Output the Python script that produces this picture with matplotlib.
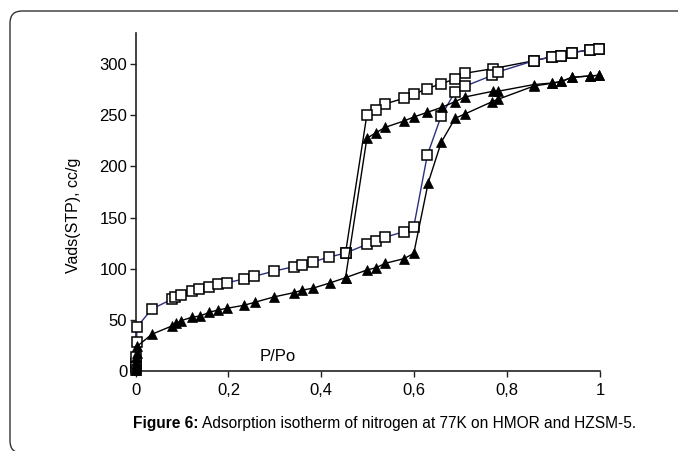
import matplotlib
matplotlib.use("Agg")
import matplotlib.pyplot as plt
from matplotlib.patches import FancyBboxPatch

plt.rcParams['font.family'] = ['Liberation Sans', 'DejaVu Sans']

# HMOR (squares) adsorption branch
hmor_ads_x = [0, 0.0005, 0.001, 0.0015, 0.002, 0.003, 0.035, 0.078, 0.085, 0.098, 0.121, 0.137,
              0.158, 0.177, 0.197, 0.233, 0.256, 0.297, 0.341, 0.358, 0.383, 0.417, 0.452, 0.498,
              0.518, 0.537, 0.578, 0.599, 0.628, 0.658, 0.688, 0.709, 0.768, 0.780, 0.858, 0.897,
              0.917, 0.939, 0.978, 0.998]
hmor_ads_y = [1, 4, 8, 14, 28, 43, 60.6, 70.1, 72.6, 74.6, 77.9, 79.9, 82.1, 85.3, 86.3, 89.9,
              92.6, 97.5, 102, 103.9, 106.8, 111.4, 115.3, 123.8, 126.8, 130.7, 136.2, 141.1,
              210.8, 249.3, 273, 278.3, 289, 292.3, 303.3, 307.2, 308.2, 311.2, 313.8, 314.5]
# HMOR desorption branch
hmor_des_x = [0.998, 0.978, 0.939, 0.917, 0.897, 0.858, 0.769, 0.709, 0.688, 0.658, 0.628, 0.599,
              0.578, 0.537, 0.518, 0.498, 0.452]
hmor_des_y = [314.5, 313.8, 311.2, 308.2, 307.2, 303.3, 295.5, 291, 285.4, 280.9, 276, 270.5,
              266.6, 261, 255.4, 250.5, 115.3]

# HZSM-5 (triangles) adsorption branch
hzsm_ads_x = [0, 0.0003, 0.0006, 0.001, 0.0015, 0.002, 0.003, 0.035, 0.078, 0.088, 0.098, 0.121,
              0.139, 0.159, 0.177, 0.197, 0.233, 0.257, 0.297, 0.340, 0.358, 0.383, 0.418, 0.452,
              0.498, 0.518, 0.538, 0.578, 0.599, 0.630, 0.658, 0.688, 0.709, 0.768, 0.780, 0.858,
              0.897, 0.917, 0.939, 0.978, 0.998]
hzsm_ads_y = [1, 3, 6, 10, 14, 18, 24, 35.9, 44, 46.6, 49.2, 52.5, 53.8, 57.4, 59.6, 61.3, 64.2,
              67.2, 72.3, 76.5, 78.9, 81.1, 86, 91.2, 98.7, 101, 105.3, 109.8, 115, 184, 223.5,
              247, 251.2, 263.3, 265.5, 278.6, 281.2, 283, 287, 288.4, 289]
# HZSM-5 desorption branch
hzsm_des_x = [0.998, 0.978, 0.939, 0.917, 0.897, 0.858, 0.780, 0.769, 0.709, 0.688, 0.659, 0.628,
              0.599, 0.578, 0.537, 0.518, 0.498, 0.452]
hzsm_des_y = [289, 288.4, 287, 283, 281.5, 280, 273.4, 273.4, 267.8, 263.3, 257.7, 252.8, 248.3,
              244.4, 238.1, 233, 227.5, 91.2]

x_ticks = [0, 0.2, 0.4, 0.6, 0.8, 1.0]
x_tick_labels = ["0", "0,2", "0,4", "0,6", "0,8", "1"]
y_ticks = [0, 50, 100, 150, 200, 250, 300]

fig = plt.figure(figsize=(6.78, 4.51), dpi=100)
ax = fig.add_axes([0.2, 0.1774, 0.685, 0.7486])

ms = 6.5
sq = dict(marker='s', markersize=ms, markerfacecolor='white', markeredgecolor='black',
          markeredgewidth=1.1, clip_on=False)
tr = dict(marker='^', markersize=ms + 0.8, markerfacecolor='black', markeredgecolor='black',
          markeredgewidth=0.5, clip_on=False)

ax.plot(hmor_des_x, hmor_des_y, color='black', lw=1.0, **sq, zorder=3)
ax.plot(hmor_ads_x, hmor_ads_y, color='#2c2f80', lw=1.0, **sq, zorder=3)
ax.plot(hzsm_ads_x, hzsm_ads_y, color='black', lw=1.0, **tr, zorder=4)
ax.plot(hzsm_des_x, hzsm_des_y, color='black', lw=1.0, **tr, zorder=4)

ax.set_xlim(0, 1)
ax.set_ylim(0, 330)
ax.set_xticks(x_ticks)
ax.set_xticklabels(x_tick_labels)
ax.set_yticks(y_ticks)
for s in ['top', 'right']:
    ax.spines[s].set_visible(False)
for s in ['left', 'bottom']:
    ax.spines[s].set_color('#222222')
    ax.spines[s].set_linewidth(1.2)
ax.tick_params(axis='both', direction='out', length=4, width=1.0, labelsize=12,
               colors='#222222', labelcolor='black')
ax.tick_params(axis='x', pad=5)
ax.tick_params(axis='y', pad=2)

ax.text(0.307, 7, "P/Po", fontsize=12, ha='center', va='bottom')
ax.set_ylabel("Vads(STP), cc/g", fontsize=11.5)
ax.yaxis.set_label_coords(-0.118, 0.46)

t1 = fig.text(0.196, 0.062, "Figure 6:", fontsize=11.2, fontweight='bold', ha='left', va='center')
fig.canvas.draw()
bb = t1.get_window_extent()
x2 = (bb.x1 + 3.5) / fig.bbox.width
fig.text(x2, 0.062, "Adsorption isotherm of nitrogen at 77K on HMOR and HZSM-5.",
         fontsize=11.2, ha='left', va='center')

frame = FancyBboxPatch((0.10, -0.02), 7.5, 4.42, boxstyle="round,pad=0,rounding_size=0.12",
                       transform=fig.dpi_scale_trans, facecolor='none', edgecolor='#333333',
                       linewidth=1.0)
fig.patches.append(frame)

fig.savefig("out.png", dpi=100)
